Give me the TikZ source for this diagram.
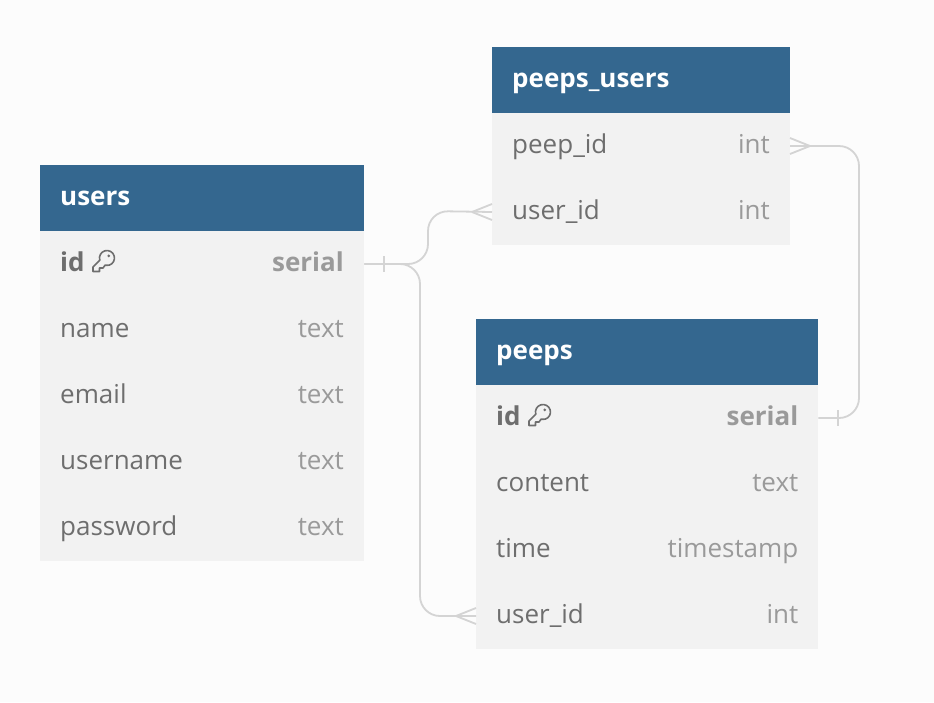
\documentclass[tikz,border=0pt]{standalone}
\usepackage{fontspec}
\setmainfont{Open Sans}
\definecolor{bgc}{HTML}{FCFCFC}
\definecolor{headc}{HTML}{34678F}
\definecolor{rowc}{HTML}{F2F2F2}
\definecolor{namec}{HTML}{6E6E6E}
\definecolor{typec}{HTML}{9A9A9A}
\definecolor{linec}{HTML}{D4D4D4}
\tikzset{
  x=1pt,y=-1pt,
  headbox/.style={anchor=north west,fill=headc,inner sep=0pt,outer sep=0pt,minimum height=66pt},
  rowbox/.style={anchor=north west,fill=rowc,inner sep=0pt,outer sep=0pt,minimum height=66pt},
  headtxt/.style={anchor=base west,inner sep=0pt,text=white,font=\fontsize{26}{30}\selectfont\bfseries},
  nametxt/.style={anchor=base west,inner sep=0pt,text=namec,font=\fontsize{26}{30}\selectfont},
  typetxt/.style={anchor=base east,inner sep=0pt,text=typec,font=\fontsize{26}{30}\selectfont},
  pkname/.style={nametxt,font=\fontsize{26}{30}\selectfont\bfseries},
  pktype/.style={typetxt,font=\fontsize{26}{30}\selectfont\bfseries},
  rel/.style={draw=linec,line width=1.8pt},
  keyicon/.style={draw=namec,line width=1.6pt,line join=round},
}
\newcommand{\keyat}[2]{%
  \draw[keyicon,shift={(#1,#2)}] (-7.2,2.2) arc[start angle=163,end angle=465,radius=7.5]
    -- (-4,10) -- (-7.5,10) -- (-7.5,13.5) -- (-14,13.5) -- (-14,9) -- cycle;
  \fill[namec,shift={(#1,#2)}] (1.8,-2.2) circle[radius=1.5];
}
\begin{document}
\begin{tikzpicture}
\useasboundingbox (0,0) rectangle (934,702);
\fill[bgc] (0,0) rectangle (934,702);
% users
\node[headbox,minimum width=324pt] (uh) at (40.3,165) {};
\node[rowbox,minimum width=324pt] (uid) at (40.3,231) {};
\node[rowbox,minimum width=324pt] (uname) at (40.3,297) {};
\node[rowbox,minimum width=324pt] (uemail) at (40.3,363) {};
\node[rowbox,minimum width=324pt] (uuser) at (40.3,429) {};
\node[rowbox,minimum width=324pt,minimum height=66pt] (upass) at (40.3,495) {};
\node[headtxt] (uht) at (60,205) {users};
\node[pkname] (uidn) at (60,271) {id};
\node[pktype] (uidt) at (344,271) {serial};
\node[nametxt] (unamen) at (60,337) {name};
\node[typetxt] (unamet) at (344,337) {text};
\node[nametxt] (uemailn) at (60,403) {email};
\node[typetxt] (uemailt) at (344,403) {text};
\node[nametxt] (uusern) at (60,469) {username};
\node[typetxt] (uusert) at (344,469) {text};
\node[nametxt] (upassn) at (60,535) {password};
\node[typetxt] (upasst) at (344,535) {text};
\keyat{107}{258}
% peeps_users
\node[headbox,minimum width=298pt] (ph) at (492,47) {};
\node[rowbox,minimum width=298pt] (pupeep) at (492,113) {};
\node[rowbox,minimum width=298pt] (puuser) at (492,179) {};
\node[headtxt] (pht) at (512,87) {peeps\_users};
\node[nametxt] (pupeepn) at (512,153) {peep\_id};
\node[typetxt] (pupeept) at (770,153) {int};
\node[nametxt] (puusern) at (512,219) {user\_id};
\node[typetxt] (puusert) at (770,219) {int};
% peeps
\node[headbox,minimum width=342.3pt] (pph) at (476,319) {};
\node[rowbox,minimum width=342.3pt] (pid) at (476,385) {};
\node[rowbox,minimum width=342.3pt] (pcont) at (476,451) {};
\node[rowbox,minimum width=342.3pt] (ptime) at (476,517) {};
\node[rowbox,minimum width=342.3pt] (puid) at (476,583) {};
\node[headtxt] (ppht) at (496,359) {peeps};
\node[pkname] (pidn) at (496,425) {id};
\node[pktype] (pidt) at (798.5,425) {serial};
\node[nametxt] (pcontn) at (496,491) {content};
\node[typetxt] (pcontt) at (798.5,491) {text};
\node[nametxt] (ptimen) at (496,557) {time};
\node[typetxt] (ptimet) at (798.5,557) {timestamp};
\node[nametxt] (puidn) at (496,623) {user\_id};
\node[typetxt] (puidt) at (798.5,623) {int};
\keyat{543}{412}
% connectors
\draw[rel,rounded corners=20pt] (uid.east) -- (428,264) -- (428,211) -- (puuser.west);
\draw[rel,rounded corners=20pt] (uid.east) -- (420,264) -- (420,616) -- (puid.west);
\draw[rel,rounded corners=20pt] (pupeep.east) -- (859,146) -- (859,418) -- (pid.east);
% cardinalities
\draw[rel] ([xshift=20pt]uid.east) ++(0,-8) -- ++(0,16);
\draw[rel] ([xshift=20pt]pid.east) ++(0,-8) -- ++(0,16);
\draw[rel] ([xshift=-20pt]puuser.west) -- ([yshift=-8pt]puuser.west);
\draw[rel] ([xshift=-20pt]puuser.west) -- ([yshift=8pt]puuser.west);
\draw[rel] ([xshift=-20pt]puid.west) -- ([yshift=-8pt]puid.west);
\draw[rel] ([xshift=-20pt]puid.west) -- ([yshift=8pt]puid.west);
\draw[rel] ([xshift=20pt]pupeep.east) -- ([yshift=-8pt]pupeep.east);
\draw[rel] ([xshift=20pt]pupeep.east) -- ([yshift=8pt]pupeep.east);
\end{tikzpicture}
\end{document}
